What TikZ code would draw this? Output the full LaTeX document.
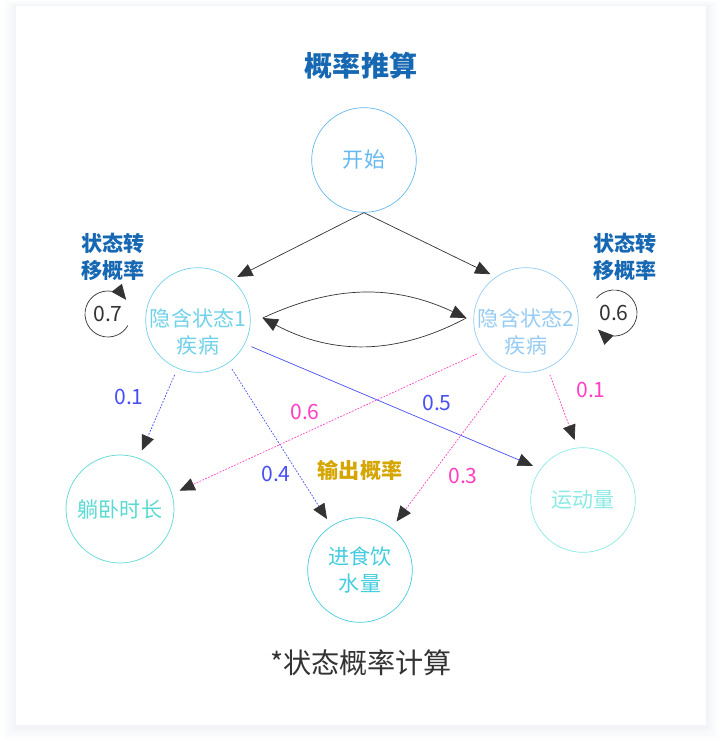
\documentclass[tikz,border=0pt]{standalone}
\usepackage{fontspec}
\setmainfont{Noto Sans CJK SC}
\usetikzlibrary{arrows.meta}

\definecolor{ink}{RGB}{51,51,51}
\definecolor{titleblue}{RGB}{22,104,178}
\definecolor{emblue}{RGB}{72,80,245}
\definecolor{empink}{RGB}{255,64,196}
\definecolor{gold}{RGB}{214,166,0}
\definecolor{shade}{RGB}{200,210,224}
\definecolor{startc}{RGB}{100,184,242}
\definecolor{hidonec}{RGB}{112,210,234}
\definecolor{hidtwoc}{RGB}{150,204,244}
\definecolor{liec}{RGB}{90,218,210}
\definecolor{eatc}{RGB}{70,204,224}
\definecolor{movec}{RGB}{140,234,230}

\newcommand{\nfont}{\fontsize{18}{23}\selectfont}

\begin{document}
\begin{tikzpicture}[x=0.03cm,y=-0.03cm,
    trans/.style={draw=ink,line width=0.6pt,-{Triangle[length=13pt,width=11pt,color=ink]}},
    emit/.style={line width=0.6pt,dash pattern=on 1.5pt off 1.2pt,
      -{Triangle[length=13pt,width=11pt,color=ink]},shorten <=0.21cm,shorten >=0.24cm},
    prob/.style={font=\nfont}]

  \fill[white] (0,0) rectangle (723,742);

  % card with a soft shadow
  \foreach \s/\p in {8/5,6/10,4/16,2/24}
    \fill[shade!\p!white] (16-1.5*\s,6-0.6*\s) rectangle (706+1.5*\s,725+1.8*\s);
  \fill[white] (16,6) rectangle (706,725);

  \node[font=\fontsize{24}{28}\selectfont\bfseries,text=titleblue] (title) at (361,66) {概率推算};

  \begin{scope}[every node/.style={circle,draw,line width=0.6pt,minimum size=3.14cm,inner sep=0pt,
      align=center,font=\nfont}]
    \node[draw=startc,text=startc] (start) at (364,160) {开始};
    \node[draw=hidonec] (h1) at (198,320) {};
    \node[draw=hidtwoc] (h2) at (526,320) {};
    \node[draw=liec,text=liec,minimum size=3.24cm] (lie) at (120,509) {躺卧时长};
    \node[draw=eatc,text=eatc] (eat) at (360,570) {进食饮\\水量};
    \node[draw=movec,text=movec] (move) at (583,500) {运动量};
  \end{scope}

  \node[align=center,font=\nfont,text=hidonec] (h1txt) at (198,332) {隐含状态1\\疾病};
  \node[align=center,font=\nfont,text=hidtwoc] (h2txt) at (526,332) {隐含状态2\\疾病};

  \coordinate (h1r) at ([xshift=0.36cm,yshift=0.06cm]h1.east);
  \coordinate (h2l) at ([xshift=-0.21cm,yshift=0.06cm]h2.west);

  \begin{scope}[shorten >=0.18cm]
    \draw[trans] (start.south) -- (h1.50);
    \draw[trans] (start.south) -- (h2.125);
  \end{scope}
  \draw[trans] (h1r) to[out=25,in=155] (h2l);
  \draw[trans] (h2l) to[out=-152,in=-28] (h1r);

  % self transitions
  \node[align=center,font=\nfont\bfseries,text=titleblue,inner sep=0pt] (loopl) at (113,257) {状态转\\移概率};
  \node[align=center,font=\nfont\bfseries,text=titleblue,inner sep=0pt] (loopr) at (625,257) {状态转\\移概率};
  \node[prob,text=ink] (p7) at (108,314) {0.7};
  \node[prob,text=ink] (p6) at (614,313) {0.6};
  \draw[trans] ([shift={(-30:0.69cm)}]p7.center) arc[start angle=-30,end angle=-322,radius=0.69cm];
  \draw[trans] ([shift={(140:0.69cm)}]p6.center) arc[start angle=140,end angle=-134,radius=0.69cm];

  % emissions
  \draw[emit,draw=emblue] (h1.-113) -- (lie.70);
  \draw[emit,draw=emblue] (h1.-55) -- (eat.123);
  \draw[emit,draw=emblue,solid] (h1.-27) -- (move.144);
  \draw[emit,draw=empink] (h2.-144) -- (lie.16);
  \draw[emit,draw=empink] (h2.-108) -- (eat.53);
  \draw[emit,draw=empink] (h2.-66) -- (move.96);

  \node[prob,text=emblue] (b1) at (129,397) {0.1};
  \node[prob,text=emblue] (b4) at (276,474) {0.4};
  \node[prob,text=emblue] (b5) at (437,403) {0.5};
  \node[prob,text=empink] (r6) at (305,412) {0.6};
  \node[prob,text=empink] (r3) at (463,476) {0.3};
  \node[prob,text=empink] (r1) at (591,390) {0.1};
  \node[font=\nfont\bfseries,text=gold] (outp) at (360,470) {输出概率};

  \node[font=\fontsize{24}{28}\selectfont,text=ink] (note) at (361,663) {*状态概率计算};

  \useasboundingbox (0,0) rectangle (723,742);
\end{tikzpicture}
\end{document}
